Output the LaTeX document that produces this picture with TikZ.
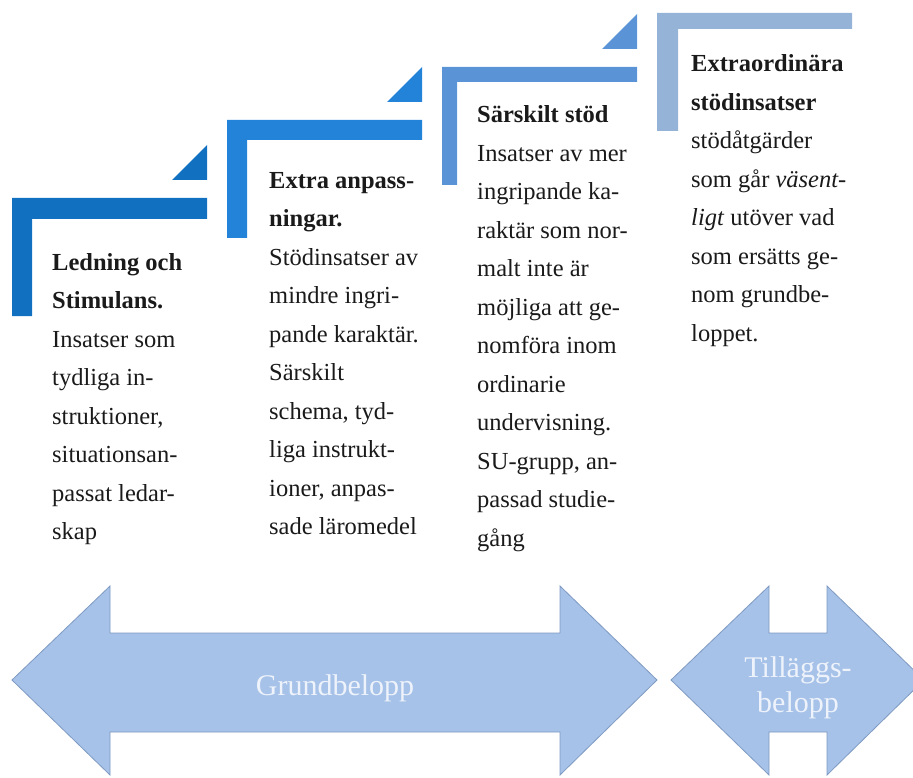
\documentclass[tikz,border=0pt]{standalone}
\usepackage{fontspec}
\setmainfont{Liberation Serif}
\newfontfamily\timesfont{Liberation Serif}
\usepackage{xcolor}
\definecolor{stepA}{HTML}{1270C0}
\definecolor{stepB}{HTML}{2383D9}
\definecolor{stepC}{HTML}{5B94D6}
\definecolor{stepD}{HTML}{95B3D7}
\definecolor{arrowfill}{HTML}{A7C2E8}
\definecolor{arrowline}{HTML}{7F9AC2}
\definecolor{arrowtext}{HTML}{EEF3FB}
\definecolor{ink}{HTML}{1A1A1A}

\begin{document}
\begin{tikzpicture}
  [x=1pt,y=-1pt,every node/.style={inner sep=0pt,align=left,anchor=base west,text=ink,font=\timesfont\fontsize{24.5}{38.5}\selectfont},
   belopp/.style={text=arrowtext,anchor=base,align=center,font=\timesfont\fontsize{30}{35}\selectfont}]
  \useasboundingbox (0,0) rectangle (913,778);

  \foreach \x/\y/\t/\w/\c in {12/198/21/20/stepA,227/120/20/20/stepB,442/67/15/15/stepC,657/13/16/21/stepD}
    \fill[\c] (\x,\y) -- (\x+195,\y) -- (\x+195,\y+\t) -- (\x+\w,\y+\t) -- (\x+\w,\y+118) -- (\x,\y+118) -- cycle;
  \foreach \x/\y/\c in {12/198/stepA,227/120/stepB,442/67/stepC}
    \fill[\c] (\x+195,\y-53) -- (\x+195,\y-18) -- (\x+160,\y-18) -- cycle;

  % anchored at the baseline of the last line
  \node (ledning) at (52,539.5) {\textbf{Ledning och}\\\textbf{Stimulans.}\\Insatser som\\tydliga in-\\struktioner,\\situationsan-\\passat ledar-\\skap};
  \node (extra) at (269,534.5) {\textbf{Extra anpass-}\\\textbf{ningar.}\\Stödinsatser av\\mindre ingri-\\pande karaktär.\\Särskilt\\schema, tyd-\\liga instrukt-\\ioner, anpas-\\sade läromedel};
  \node (sarskilt) at (477,546) {\textbf{Särskilt stöd}\\Insatser av mer\\ingripande ka-\\raktär som nor-\\malt inte är\\möjliga att ge-\\nomföra inom\\ordinarie\\undervisning.\\SU-grupp, an-\\passad studie-\\gång};
  \node (extraord) at (691,341) {\textbf{Extraordinära}\\\textbf{stödinsatser}\\stödåtgärder\\som går \textit{väsent-}\\\textit{ligt} utöver vad\\som ersätts ge-\\nom grundbe-\\loppet.};

  \filldraw[fill=arrowfill,draw=arrowline,line width=0.8pt] (12,680) -- (110,586) -- (110,633) -- (560,633) -- (560,586) -- (657,680)
    -- (560,775) -- (560,732) -- (110,732) -- (110,775) -- cycle;
  \filldraw[fill=arrowfill,draw=arrowline,line width=0.8pt] (671,680) -- (769,586) -- (769,633) -- (827,633) -- (827,586) -- (924,680)
    -- (827,775) -- (827,732) -- (769,732) -- (769,775) -- cycle;
  \node[belopp] (grund) at (335,695) {Grundbelopp};
  \node[belopp] (tillagg) at (798,712) {Tilläggs-\\belopp};
\end{tikzpicture}
\end{document}
